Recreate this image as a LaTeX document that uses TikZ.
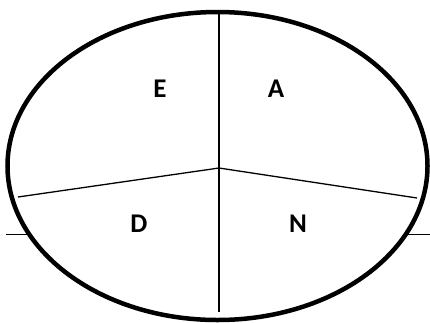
\documentclass[tikz,border=0pt]{standalone}
\usepackage{fontspec}
\setmainfont{Carlito}
\begin{document}
\begin{tikzpicture}[x=1pt,y=-1pt,
  thin line/.style={line width=1.3pt,black},
  rim/.style={line width=4.5pt,black,fill=white},
  lbl/.style={font=\bfseries\fontsize{27}{30}\selectfont,inner sep=0pt}]
\useasboundingbox (0,0) rectangle (430,322);
\coordinate (hl) at (6,234);
\coordinate (hr) at (430,234);
\draw[line width=1pt] (hl) -- (hr);
\draw[rim] (217.5,166) ellipse [x radius=210, y radius=154];
\coordinate (c) at (219,168);
\coordinate (t) at (219,12);
\coordinate (b) at (219,312);
\coordinate (l) at (18,197);
\coordinate (r) at (417,198);
\draw[thin line] (t) -- (c) -- (b);
\draw[thin line] (l) -- (c) -- (r);
\node[lbl] (E) at (160,89) {E};
\node[lbl] (A) at (276,89) {A};
\node[lbl] (D) at (139,224) {D};
\node[lbl] (N) at (298,224) {N};
\end{tikzpicture}
\end{document}
